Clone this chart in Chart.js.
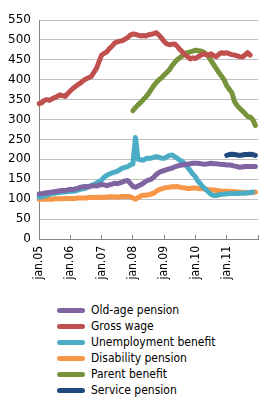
<!DOCTYPE html>
<html>
<head>
<meta charset="utf-8">
<script src="https://cdn.jsdelivr.net/npm/chart.js@4/dist/chart.umd.min.js"></script>
<style>
  body { margin: 0; background: #fff; }
  .wrap { position: relative; width: 259px; height: 295px; }
  .legend { position: absolute; top: 302px; left: 57px; font: 12px "DejaVu Sans Condensed", "DejaVu Sans", sans-serif; color: #000; }
  .legend-item { height: 16px; line-height: 16px; display: flex; align-items: center; }
  .legend-swatch { width: 28px; height: 5px; border-radius: 3px; margin-right: 6px; }
</style>
</head>
<body>
<div class="wrap"><canvas id="chart"></canvas></div>
<div class="legend" id="legend"></div>
<script>
// monthly, jan.05 .. dec.11 (+ one empty slot for jan.12 at the axis end)
const years = ["05", "06", "07", "08", "09", "10", "11", "12"];
const months = [];
years.forEach((y) => {
  for (let i = 0; i < 12; i++) months.push(i === 0 ? `jan.${y}` : "");
});
const labels = months.slice(0, 85);

const oldAge = [
  113, 114, 115, 116, 117, 118, 119, 120, 121, 122, 122, 123,
  125, 124, 126, 128, 130, 131, 132, 131, 133, 134, 133, 135,
  137, 136, 134, 136, 138, 140, 139, 141, 143, 146, 147, 140,
  132, 130, 133, 136, 140, 145, 148, 150, 155, 162, 167, 170,
  172, 174, 176, 178, 181, 183, 185, 186, 187, 188, 189, 190,
  190, 190, 189, 188, 188, 189, 190, 189, 189, 188, 187, 187,
  186, 186, 185, 183, 182, 180, 181, 182, 182, 182, 182, 182,
];
const grossWage = [
  340, 342, 348, 350, 348, 352, 355, 358, 362, 360, 358, 365,
  372, 378, 383, 388, 392, 398, 402, 405, 408, 418, 428, 445,
  462, 466, 470, 478, 484, 492, 495, 497, 498, 502, 506, 512,
  515, 514, 512, 510, 511, 510, 513, 514, 516, 518, 512, 505,
  496, 490, 488, 489, 490, 484, 476, 470, 463, 458, 452, 455,
  453, 458, 461, 465, 463, 462, 465, 460, 458, 464, 468, 466,
  468, 465, 463, 462, 460, 458, 457, 462, 468, 462, null, null,
];
const unemployment = [
  105, 106, 108, 110, 112, 114, 115, 116, 117, 118, 118, 119,
  120, 120, 121, 123, 125, 126, 128, 131, 134, 137, 140, 144,
  148, 155, 160, 163, 166, 168, 170, 174, 178, 180, 182, 186,
  188, 255, 200, 199, 198, 202, 203, 203, 205, 207, 205, 203,
  203, 206, 210, 211, 207, 203, 198, 195, 188, 180, 172, 163,
  156, 145, 138, 130, 124, 118, 112, 109, 109, 111, 112, 113,
  113, 114, 114, 114, 114, 115, 115, 115, 116, 117, 118, null,
];
const disability = [
  100, 100, 100, 100, 100, 100, 101, 101, 101, 101, 102, 102,
  102, 102, 102, 103, 103, 103, 103, 104, 104, 104, 104, 105,
  105, 105, 105, 106, 106, 106, 105, 106, 107, 107, 107, 106,
  103, 100, 104, 108, 110, 110, 111, 113, 115, 120, 124, 126,
  128, 129, 130, 131, 131, 132, 130, 129, 128, 127, 127, 128,
  128, 127, 126, 126, 125, 124, 124, 123, 122, 121, 120, 120,
  120, 120, 119, 119, 118, 118, 117, 117, 116, 116, 117, 118,
];
const parent = [
  null, null, null, null, null, null, null, null, null, null, null, null,
  null, null, null, null, null, null, null, null, null, null, null, null,
  null, null, null, null, null, null, null, null, null, null, null, null,
  322, 330, 337, 343, 350, 357, 365, 375, 385, 393, 400, 405,
  412, 418, 425, 435, 443, 450, 455, 460, 466, 468, 470, 472,
  474, 473, 472, 470, 465, 458, 448, 438, 428, 418, 409, 400,
  385, 376, 367, 345, 335, 328, 322, 315, 308, 306, 300, 285,
];
const service = [
  null, null, null, null, null, null, null, null, null, null, null, null,
  null, null, null, null, null, null, null, null, null, null, null, null,
  null, null, null, null, null, null, null, null, null, null, null, null,
  null, null, null, null, null, null, null, null, null, null, null, null,
  null, null, null, null, null, null, null, null, null, null, null, null,
  null, null, null, null, null, null, null, null, null, null, null, null,
  210, 212, 213, 212, 211, 210, 211, 212, 212, 213, 212, 210,
];

const series = [
  { label: "Old-age pension", data: oldAge, color: "#8064A2" },
  { label: "Gross wage", data: grossWage, color: "#C0504D" },
  { label: "Unemployment benefit", data: unemployment, color: "#4BACC6" },
  { label: "Disability pension", data: disability, color: "#F79646" },
  { label: "Parent benefit", data: parent, color: "#77933C" },
  { label: "Service pension", data: service, color: "#1F497D" },
];

const axisColor = "#868686";
const gridColor = "#BFBFBF";

const chart = new Chart(document.getElementById("chart").getContext("2d"), {
  type: "line",
  data: {
    labels,
    datasets: series.map((s) => ({
      label: s.label,
      data: s.data,
      borderColor: s.color,
      backgroundColor: s.color,
      borderWidth: 5,
      pointRadius: 0,
      tension: 0,
      borderCapStyle: "round",
      borderJoinStyle: "round",
      spanGaps: false,
    })),
  },
  options: {
    responsive: true,
    maintainAspectRatio: false,
    animation: false,
    layout: { padding: { top: 20, right: 1, left: 0, bottom: 0 } },
    plugins: { legend: { display: false }, tooltip: { enabled: false } },
    scales: {
      x: {
        offset: false,
        border: { color: axisColor, width: 1 },
        grid: {
          drawOnChartArea: false,
          tickLength: -4,
          color: (ctx) => (ctx.index % 12 === 0 ? axisColor : "rgba(0,0,0,0)"),
        },
        ticks: {
          autoSkip: false,
          minRotation: 90,
          maxRotation: 90,
          padding: 11,
          color: "#000",
          font: { family: "DejaVu Sans Condensed", size: 12 },
          callback: (v, i) => (i % 12 === 0 && i < 84 ? labels[i] : ""),
        },
        afterFit: (s) => {
          s.height = 56;
          // rotated labels make chart.js reserve side room we don't want
          s.paddingLeft = 0;
          s.paddingRight = 0;
        },
      },
      y: {
        min: 0,
        max: 550,
        border: { color: axisColor, width: 1 },
        grid: { color: gridColor, drawTicks: false },
        ticks: {
          stepSize: 50,
          padding: 8,
          color: "#000",
          font: { family: "DejaVu Sans", size: 12 },
        },
        afterFit: (s) => { s.width = 39; },
      },
    },
  },
});

// legend as a vertical list, built from the chart's datasets
document.getElementById("legend").innerHTML = chart.data.datasets
  .map(
    (d) => `<div class="legend-item"><span class="legend-swatch" style="background:${d.borderColor}"></span>${d.label}</div>`
  )
  .join("");
</script>
</body>
</html>
